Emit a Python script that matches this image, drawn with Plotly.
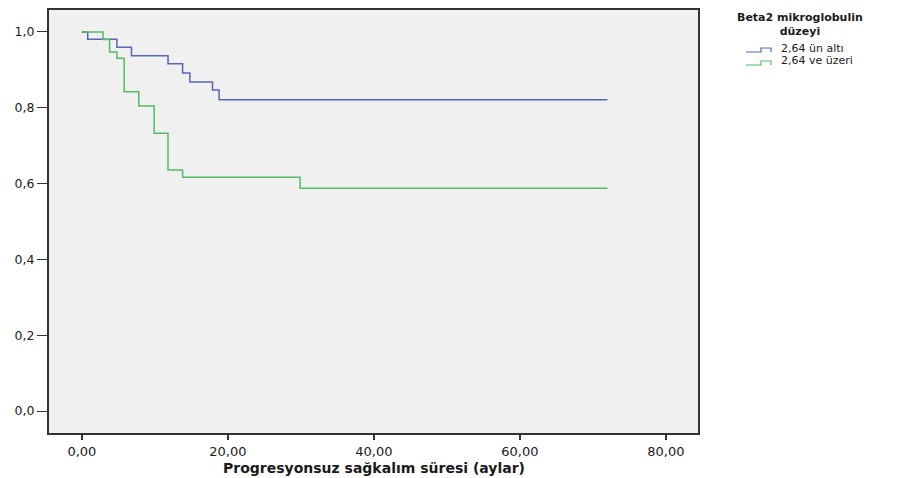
import plotly.graph_objects as go

# Kaplan-Meier step estimates (months, survival) per Beta2 microglobulin group
time_low = [0.0, 0.8, 4.8, 6.8, 11.8, 13.8, 14.8, 17.9, 18.8, 72.0]
surv_low = [1.0, 0.981, 0.960, 0.937, 0.916, 0.892, 0.868, 0.847, 0.821, 0.821]

time_high = [0.0, 2.9, 3.8, 4.8, 5.8, 7.8, 9.9, 11.8, 13.8, 29.9, 72.0]
surv_high = [1.0, 0.980, 0.947, 0.931, 0.842, 0.805, 0.733, 0.636, 0.617, 0.588, 0.588]

group_names = ["2,64 ün altı", "2,64 ve üzeri"]
group_colors = ["#5567b8", "#52bd63"]
legend_title = "Beta2 mikroglobulin<br>düzeyi"
x_title = "Progresyonsuz sağkalım süresi (aylar)"

x_ticks = [0, 20, 40, 60, 80]
y_ticks = [0.0, 0.2, 0.4, 0.6, 0.8, 1.0]

W, H = 905, 478
M_L, M_R, M_T, M_B = 49, 207, 10, 45
PLOT_W = W - M_L - M_R
PLOT_H = H - M_T - M_B


def px_x(px):
    """Pixel column -> paper x."""
    return (px - M_L) / PLOT_W


def px_y(py):
    """Pixel row -> paper y."""
    return (H - M_B - py) / PLOT_H


FONT = "DejaVu Sans, Verdana, sans-serif"
TEXT_COLOR = "#1a1a1a"

fig = go.Figure()
for t, s, name, color in zip([time_low, time_high], [surv_low, surv_high],
                             group_names, group_colors):
    fig.add_trace(go.Scatter(
        x=t, y=s, mode="lines", name=name, showlegend=False,
        line=dict(color=color, width=1.5, shape="hv"),
    ))

annotations = [
    # x-axis title
    dict(text="<b>" + x_title + "</b>", x=0.5, y=px_y(468),
         xref="paper", yref="paper", xanchor="center", yanchor="middle",
         showarrow=False, font=dict(family=FONT, size=14, color=TEXT_COLOR)),
    # legend title
    dict(text="<b>" + legend_title + "</b>", x=px_x(800), y=px_y(24),
         xref="paper", yref="paper", xanchor="center", yanchor="middle",
         showarrow=False, align="center",
         font=dict(family=FONT, size=11, color=TEXT_COLOR)),
]

# Hand-built legend entries with step-shaped glyphs
shapes = []
row_y = [48, 61]
for name, color, ry in zip(group_names, group_colors, row_y):
    annotations.append(dict(
        text=name, x=px_x(779), y=px_y(ry), xref="paper", yref="paper",
        xanchor="left", yanchor="middle", showarrow=False,
        font=dict(family=FONT, size=11, color=TEXT_COLOR),
    ))
    lo, hi = px_y(ry + 4), px_y(ry)
    path = (f"M {px_x(746)} {lo} L {px_x(761)} {lo} L {px_x(761)} {hi} "
            f"L {px_x(771)} {hi} L {px_x(771)} {lo}")
    shapes.append(dict(type="path", path=path, xref="paper", yref="paper",
                       line=dict(color=color, width=1.2)))

fig.update_layout(
    width=W, height=H,
    margin=dict(l=M_L, r=M_R, t=M_T, b=M_B, autoexpand=False),
    paper_bgcolor="white",
    plot_bgcolor="#f0f0f0",
    separators=",.",
    font=dict(family=FONT, size=12.5, color=TEXT_COLOR),
    showlegend=False,
    annotations=annotations,
    shapes=shapes,
    xaxis=dict(
        range=[-4.5, 84.4], automargin=False,
        tickvals=x_ticks, tickformat=".2f",
        ticks="outside", ticklen=5, tickwidth=2, tickcolor="#333333",
        tickfont=dict(family=FONT, size=13, color=TEXT_COLOR),
        showgrid=False, zeroline=False,
        showline=True, linecolor="#333333", linewidth=2, mirror=True,
    ),
    yaxis=dict(
        range=[-0.058, 1.058], automargin=False,
        tickvals=y_ticks, tickformat=".1f",
        ticks="outside", ticklen=10, tickwidth=1, tickcolor="#333333",
        tickfont=dict(family=FONT, size=12.5, color=TEXT_COLOR),
        showgrid=False, zeroline=False,
        showline=True, linecolor="#333333", linewidth=2, mirror=True,
    ),
)

fig.write_html("out.html")
